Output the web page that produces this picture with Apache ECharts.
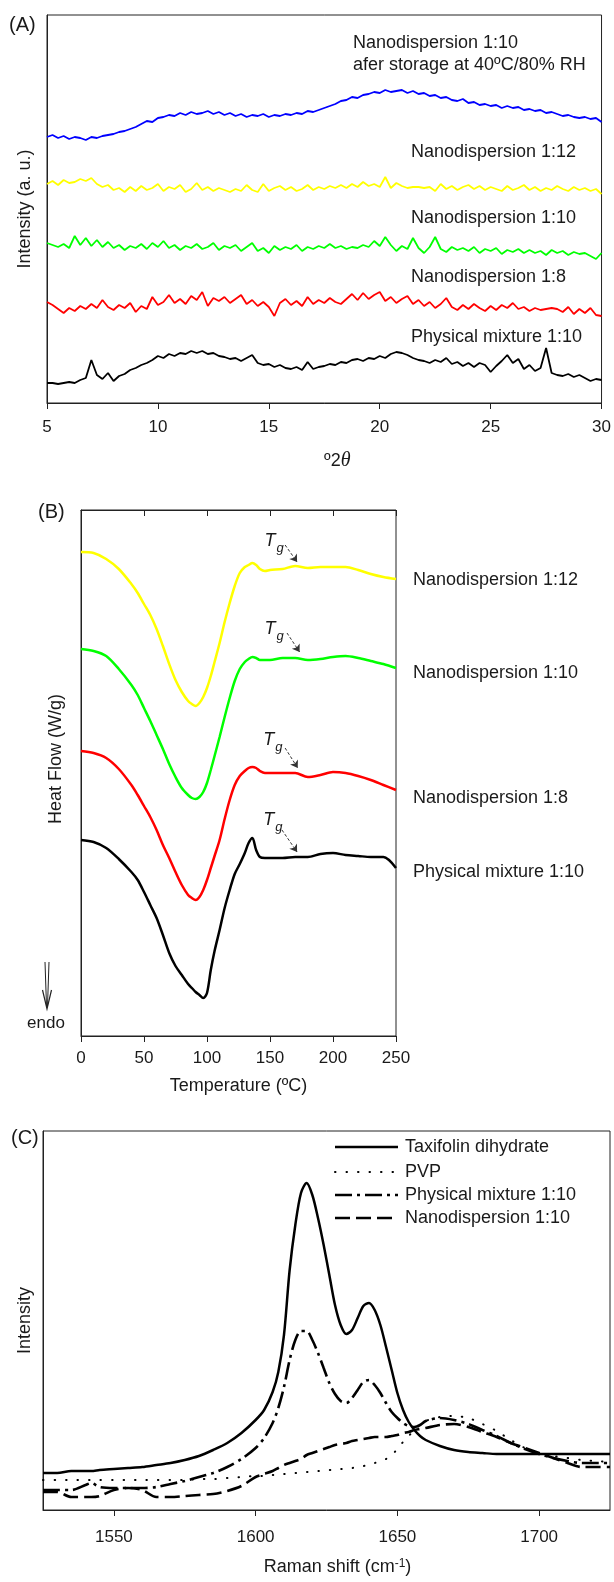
<!DOCTYPE html>
<html>
<head>
<meta charset="utf-8">
<title>XRD, DSC and Raman</title>
<script src="https://cdn.jsdelivr.net/npm/echarts@6/dist/echarts.min.js"></script>
<style>
  html, body { margin: 0; padding: 0; background: #fff; }
  #chart { width: 614px; height: 1582px; }
</style>
</head>
<body>
<div id="chart"></div>
<script>
// ---------- (A) XRD, 2theta from 5 to 30 in 0.25 steps, intensity a.u. ----------
const xrdStart = 5;
const xrdStep = 0.25;
const xrdStored = [
  266, 268, 265, 267, 264, 266, 265, 263, 266, 265,
  267, 268, 269, 271, 272, 274, 276, 279, 282, 281,
  285, 286, 288, 287, 290, 288, 291, 289, 290, 292,
  289, 291, 288, 290, 287, 289, 286, 288, 287, 289,
  286, 288, 287, 289, 288, 290, 289, 292, 291, 293,
  295, 297, 299, 302, 303, 306, 305, 308, 309, 311,
  310, 313, 311, 312, 313, 310, 312, 309, 310, 307,
  308, 305, 306, 303, 302, 304, 300, 301, 298, 299,
  297, 298, 295, 297, 295, 296, 293, 294, 292, 293,
  290, 291, 289, 287, 288, 286, 285, 286, 284, 285,
  281
];
const xrdNano12 = [
  219, 222, 218, 223, 220, 221, 224, 222, 225, 219,
  216, 218, 213, 215, 211, 216, 212, 217, 213, 215,
  219, 212, 216, 214, 218, 211, 214, 220, 213, 216,
  212, 215, 213, 211, 214, 212, 218, 213, 211, 219,
  212, 215, 217, 213, 216, 212, 214, 218, 213, 216,
  214, 217, 215, 218, 215, 219, 216, 221, 217, 219,
  216, 226, 215, 220, 217, 215, 216, 216, 215, 216,
  212, 219, 214, 217, 213, 216, 218, 214, 217, 213,
  216, 214, 212, 217, 213, 215, 218, 213, 216, 212,
  215, 213, 217, 214, 212, 216, 213, 215, 212, 214,
  209
];
const xrdNano10 = [
  160, 158, 156, 159, 155, 167, 158, 165, 157, 163,
  156, 161, 155, 158, 153, 157, 155, 159, 154, 160,
  156, 162, 155, 158, 153, 157, 155, 159, 154, 156,
  160, 153, 157, 155, 158, 152, 156, 160, 152, 155,
  150, 157, 153, 156, 154, 158, 152, 156, 154, 157,
  155, 159, 155, 157, 154, 156, 155, 158, 156, 162,
  157, 166, 158, 152, 157, 154, 165, 155, 150, 156,
  166, 154, 151, 156, 153, 155, 152, 156, 150, 154,
  152, 155, 149, 153, 151, 154, 150, 153, 150, 152,
  148, 153, 150, 152, 148, 151, 149, 150, 147, 144,
  150
];
const xrdNano8 = [
  101, 98, 94, 90, 95, 92, 97, 94, 99, 95,
  103, 96, 93, 98, 95, 100, 91, 97, 94, 106,
  98, 101, 108, 100, 104, 99, 107, 103, 111, 97,
  105, 102, 106, 100, 104, 108, 99, 103, 97, 101,
  96, 87, 100, 104, 98, 102, 97, 106, 99, 103,
  100, 105, 101, 99, 104, 109, 103, 110, 104, 108,
  111, 102, 106, 100, 104, 107, 99, 103, 97, 101,
  95, 99, 105, 96, 93, 98, 94, 99, 95, 92,
  97, 93, 98, 95, 100, 94, 96, 92, 95, 93,
  94, 95, 94, 91, 96, 89, 94, 90, 95, 88,
  87
];
const xrdPhysMix = [
  20, 20, 19, 20, 21, 20, 23, 25, 43, 28,
  24, 30, 22, 27, 29, 33, 35, 38, 40, 43,
  47, 45, 49, 47, 50, 49, 52, 50, 52, 49,
  50, 47, 46, 44, 45, 42, 45, 48, 40, 38,
  39, 36, 38, 35, 34, 36, 33, 41, 34, 36,
  37, 39, 38, 41, 40, 43, 44, 42, 45, 44,
  47, 45, 49, 51, 50, 48, 45, 43, 42, 40,
  43, 41, 45, 39, 41, 37, 40, 36, 40, 38,
  31, 37, 42, 48, 40, 44, 34, 38, 32, 35,
  55, 30, 28, 27, 29, 26, 28, 25, 22, 24,
  23
];
const xrdTicks = [5, 10, 15, 20, 25, 30];

// ---------- (B) DSC, heat flow W/g (curves offset) ----------
const temperature = [0, 10, 20, 30, 40, 45, 50, 55, 60, 65, 70, 75, 80, 85, 88, 91, 94, 97, 100, 103, 106,
  110, 114, 118, 122, 126, 130, 133, 136, 139, 142, 146, 150, 160, 170, 180, 190, 200, 210, 220, 230, 240, 250];
const dscNano12 = [4.84, 4.83, 4.77, 4.67, 4.52, 4.43, 4.32, 4.21, 4.07, 3.90, 3.72, 3.56, 3.44, 3.35, 3.32, 3.30,
  3.33, 3.39, 3.48, 3.60, 3.74, 3.93, 4.14, 4.33, 4.50, 4.63, 4.69, 4.71, 4.73, 4.71, 4.67, 4.65, 4.66, 4.67,
  4.70, 4.68, 4.69, 4.69, 4.69, 4.66, 4.62, 4.59, 4.57];
const dscNano10 = [3.87, 3.85, 3.80, 3.67, 3.51, 3.41, 3.28, 3.15, 3.01, 2.87, 2.72, 2.59, 2.48, 2.41, 2.38, 2.37,
  2.39, 2.44, 2.53, 2.66, 2.80, 2.99, 3.19, 3.38, 3.55, 3.67, 3.74, 3.77, 3.79, 3.78, 3.76, 3.76, 3.76, 3.78,
  3.78, 3.76, 3.77, 3.79, 3.80, 3.78, 3.75, 3.72, 3.68];
const dscNano8 = [2.85, 2.83, 2.78, 2.67, 2.51, 2.41, 2.30, 2.19, 2.06, 1.91, 1.78, 1.64, 1.51, 1.41, 1.38, 1.36,
  1.39, 1.46, 1.56, 1.68, 1.80, 1.96, 2.17, 2.36, 2.51, 2.60, 2.65, 2.68, 2.69, 2.68, 2.65, 2.63, 2.63, 2.63,
  2.63, 2.59, 2.61, 2.64, 2.63, 2.60, 2.56, 2.51, 2.46];
const dscPhysMix = [1.96, 1.94, 1.88, 1.77, 1.64, 1.56, 1.44, 1.31, 1.18, 1.01, 0.83, 0.70, 0.61, 0.52, 0.48, 0.44,
  0.41, 0.38, 0.43, 0.66, 0.85, 1.06, 1.28, 1.46, 1.62, 1.72, 1.83, 1.93, 1.98, 1.86, 1.79, 1.78, 1.78, 1.78,
  1.79, 1.79, 1.82, 1.83, 1.81, 1.80, 1.79, 1.79, 1.68];
const dscTicks = [0, 50, 100, 150, 200, 250];
// Tg arrows and labels, in (temperature, heat flow)
const tgArrowFrom = [[162, 4.91], [163.5, 4.03], [162, 2.88], [159.5, 2.06]];
const tgArrowTo = [[171.5, 4.74], [173.5, 3.84], [172, 2.68], [171.5, 1.84]];
const tgLabelAt = [[150, 4.95], [150, 4.07], [149, 2.96], [149, 2.16]];

// ---------- (C) Raman ----------
const ramanShift = [1525, 1530, 1535, 1540, 1542, 1545,
  1550, 1555, 1560, 1565, 1570, 1575, 1580, 1585, 1590, 1595, 1600,
  1603, 1606,
  1608, 1610, 1612, 1614, 1616, 1618, 1620, 1622, 1624, 1626, 1628, 1630, 1632, 1634, 1636, 1638, 1640,
  1642, 1644, 1646, 1648, 1650, 1652, 1654, 1656, 1658, 1660,
  1665, 1670, 1675, 1680, 1685, 1690, 1695, 1700, 1705, 1710, 1715, 1720, 1725];
const ramanTaxifolin = [37, 37, 39, 39, 39, 40,
  41, 42, 43, 45, 47, 50, 54, 60, 67, 77, 90,
  100, 118,
  138, 175, 240, 285, 317, 327, 315, 292, 265, 235, 205, 185, 176, 180, 192, 204, 207,
  200, 185, 163, 140, 117, 100, 88, 80, 74, 70,
  64, 60, 58, 57, 56, 56, 56, 56, 56, 56, 56, 56, 56];
const ramanPVP = [30, 30, 30, 30, 30, 30,
  30, 30, 30, 30, 30, 30, 31, 31, 32, 33, 34,
  34, 35,
  35, 36, 36, 37, 37, 38, 38, 39, 39, 40, 40, 41, 41, 42, 43, 44, 45,
  47, 49, 51, 55, 61, 68, 74, 80, 85, 89,
  93, 94, 92, 86, 79, 70, 62, 57, 54, 52, 50, 49, 48];
const ramanPhysMix = [20, 20, 20, 25, 27, 23,
  22, 22, 22, 23, 26, 29, 33, 37, 43, 51, 62,
  72, 87,
  102, 123, 150, 170, 179, 179, 170, 157, 142, 127, 116, 109, 107, 112, 120, 128, 130,
  125, 117, 107, 98, 92, 87, 84, 83, 85, 89,
  92, 90, 86, 80, 74, 67, 61, 56, 52, 49, 47, 47, 47];
const ramanNano10 = [18, 18, 13, 13, 13, 14,
  20, 22, 20, 13, 13, 14, 15, 16, 19, 24, 33,
  36, 39,
  42, 45, 47, 49, 51, 55, 57, 59, 61, 63, 65, 66, 67, 69, 70, 71, 72,
  73, 73, 73, 74, 75, 77, 78, 80, 81, 82,
  85, 86, 83, 78, 73, 67, 62, 57, 52, 47, 43, 43, 43];
const ramanTicks = [1550, 1600, 1650, 1700];

// ---------- styling ----------
const FONT = '"Liberation Sans", Arial, Helvetica, sans-serif';
const INK = '#1a1a1a';

const xrdSeries = [
  {name: 'Nanodispersion 1:10 after storage', color: '#0000ff', values: xrdStored},
  {name: 'Nanodispersion 1:12', color: '#ffff00', values: xrdNano12},
  {name: 'Nanodispersion 1:10', color: '#00ff00', values: xrdNano10},
  {name: 'Nanodispersion 1:8', color: '#ff0000', values: xrdNano8},
  {name: 'Physical mixture 1:10', color: '#000000', values: xrdPhysMix},
];
const dscSeries = [
  {name: 'Nanodispersion 1:12', color: '#ffff00', values: dscNano12},
  {name: 'Nanodispersion 1:10', color: '#00ff00', values: dscNano10},
  {name: 'Nanodispersion 1:8', color: '#ff0000', values: dscNano8},
  {name: 'Physical mixture 1:10', color: '#000000', values: dscPhysMix},
];
const ramanSeries = [
  {name: 'Taxifolin dihydrate', values: ramanTaxifolin, dash: 'solid', width: 2.5, cap: 'butt'},
  {name: 'PVP', values: ramanPVP, dash: [0.5, 11], width: 2, cap: 'round'},
  {name: 'Physical mixture 1:10', values: ramanPhysMix, dash: [17, 5, 3, 5], width: 2.6, cap: 'butt'},
  {name: 'Nanodispersion 1:10', values: ramanNano10, dash: [15, 6], width: 2.6, cap: 'butt'},
];

const gridBox = {show: true, borderColor: '#222', borderWidth: 1, backgroundColor: 'transparent', containLabel: false};

function xAxisBase(gridIndex, min, max, ticks, margin) {
  return {
    gridIndex, type: 'value', min, max,
    axisLine: {show: true, lineStyle: {color: '#222', width: 1}},
    axisTick: {show: true, inside: false, length: 6, lineStyle: {color: '#222'}, customValues: ticks},
    axisLabel: {fontSize: 17, color: INK, fontFamily: FONT, margin, customValues: ticks,
      formatter: (v) => String(v)},
    splitLine: {show: false},
    nameLocation: 'middle',
  };
}

function yAxisBase(gridIndex, min, max, name, gap, padding) {
  return {
    gridIndex, type: 'value', min, max,
    axisLine: {show: true, lineStyle: {color: '#222', width: 1}},
    axisTick: {show: false}, axisLabel: {show: false}, splitLine: {show: false},
    name, nameLocation: 'middle', nameGap: gap,
    nameTextStyle: {fontSize: 18, color: INK, fontFamily: FONT, padding: padding || 0},
  };
}

const series = [];
xrdSeries.forEach((s) => {
  series.push({
    name: s.name, type: 'line', xAxisIndex: 0, yAxisIndex: 0,
    symbol: 'none', silent: true,
    lineStyle: {color: s.color, width: 1.8},
    data: s.values.map((v, i) => [xrdStart + i * xrdStep, v]),
  });
});
dscSeries.forEach((s, k) => {
  series.push({
    name: s.name, type: 'line', xAxisIndex: 1, yAxisIndex: 1,
    symbol: 'none', silent: true, smooth: 0.3,
    lineStyle: {color: s.color, width: 2.5},
    data: temperature.map((t, i) => [t, s.values[i]]),
    markLine: {
      silent: true, animation: false,
      symbol: ['none', 'arrow'], symbolSize: 7,
      lineStyle: {color: '#333', width: 1, type: [3, 2]},
      label: {show: false},
      data: [[{coord: tgArrowFrom[k]}, {coord: tgArrowTo[k]}]],
    },
  });
});
ramanSeries.forEach((s, k) => {
  series.push({
    name: s.name, type: 'line', xAxisIndex: 3, yAxisIndex: 2,
    symbol: 'none', silent: true, smooth: 0.3, z: 10 - k,
    lineStyle: {color: '#000', width: s.width, type: s.dash, cap: s.cap},
    data: ramanShift.map((x, i) => [x, s.values[i]]),
  });
});

const chart = echarts.init(document.getElementById('chart'), null, {renderer: 'canvas'});

chart.setOption({
  animation: false,
  backgroundColor: '#fff',
  grid: [
    Object.assign({left: 47, top: 15, width: 557, height: 388}, gridBox),
    Object.assign({left: 81, top: 510, width: 315, height: 526}, gridBox),
    Object.assign({left: 43, top: 1131, width: 567, height: 379}, gridBox),
  ],
  xAxis: [
    Object.assign(xAxisBase(0, 5, 30, xrdTicks, 16), {
      interval: 5,
      name: '{a|º2}{b|θ}', nameGap: 48,
      nameTextStyle: {
        padding: [0, 0, 0, 26],
        rich: {
          a: {fontSize: 18, color: INK, fontFamily: FONT},
          b: {fontSize: 20, color: INK, fontStyle: 'italic', fontFamily: '"Liberation Serif", "DejaVu Serif", serif'},
        },
      },
    }),
    Object.assign(xAxisBase(1, 0, 250, dscTicks, 14), {
      interval: 50,
      name: 'Temperature (ºC)', nameGap: 41,
      nameTextStyle: {fontSize: 18, color: INK, fontFamily: FONT},
    }),
    {
      gridIndex: 1, type: 'value', position: 'top', min: 0, max: 250, interval: 50,
      axisLine: {show: true, lineStyle: {color: '#222'}},
      axisTick: {show: true, inside: true, length: 6, lineStyle: {color: '#222'}},
      axisLabel: {show: false}, splitLine: {show: false},
    },
    Object.assign(xAxisBase(2, 1525, 1725, ramanTicks, 19), {
      splitNumber: 4,
      name: '{n|Raman shift (cm}{s|-1}{n|)}', nameGap: 48,
      nameTextStyle: {
        padding: [0, 0, 0, 22],
        rich: {
          n: {fontSize: 18, color: INK, fontFamily: FONT},
          s: {fontSize: 12, color: INK, fontFamily: FONT, verticalAlign: 'top'},
        },
      },
    }),
  ],
  yAxis: [
    yAxisBase(0, 0, 388, 'Intensity (a. u.)', 13),
    yAxisBase(1, 0, 5.26, 'Heat Flow (W/g)', 16, [0, 0, 0, 28]),
    yAxisBase(2, 0, 379, 'Intensity', 9),
  ],
  series,
});

// ---------- text annotations ----------
function text(x, y, str, size, extra) {
  return {
    type: 'text', x, y, silent: true, z: 100,
    style: Object.assign({
      text: str, fill: INK, fontSize: size, fontFamily: FONT,
      align: 'left', verticalAlign: 'middle',
    }, extra || {}),
  };
}

const graphics = [
  text(9, 25, '(A)', 20),
  text(38, 512, '(B)', 20),
  text(11, 1138, '(C)', 20),
  // panel A trace labels
  text(353, 43, 'Nanodispersion 1:10', 18),
  text(353, 65, 'afer storage at 40ºC/80% RH', 18),
  text(411, 152, 'Nanodispersion 1:12', 18),
  text(411, 218, 'Nanodispersion 1:10', 18),
  text(411, 277, 'Nanodispersion 1:8', 18),
  text(411, 337, 'Physical mixture 1:10', 18),
  // panel B trace labels
  text(413, 580, 'Nanodispersion 1:12', 18),
  text(413, 673, 'Nanodispersion 1:10', 18),
  text(413, 798, 'Nanodispersion 1:8', 18),
  text(413, 872, 'Physical mixture 1:10', 18),
  // endo arrow
  {type: 'polyline', silent: true, shape: {points: [[45, 962], [46.5, 1006]]}, style: {stroke: '#222', lineWidth: 1}},
  {type: 'polyline', silent: true, shape: {points: [[49, 962], [47.5, 1006]]}, style: {stroke: '#222', lineWidth: 1}},
  {type: 'polyline', silent: true, shape: {points: [[42.5, 990], [47, 1009], [51.5, 990]]}, style: {stroke: '#222', lineWidth: 1.2, fill: null}},
  text(46, 1023, 'endo', 17, {align: 'center'}),
];

// Tg labels placed through the DSC axes
const dscFirstSeries = xrdSeries.length;
tgLabelAt.forEach((p) => {
  const [px, py] = chart.convertToPixel({seriesIndex: dscFirstSeries}, p);
  graphics.push(text(px, py, 'T', 18, {align: 'center', fontStyle: 'italic'}));
  graphics.push(text(px + 10, py + 7, 'g', 13, {align: 'center', fontStyle: 'italic'}));
});

// panel C legend
const legendRows = [1147, 1172, 1195, 1218];
ramanSeries.forEach((s, k) => {
  const y = legendRows[k];
  graphics.push({
    type: 'line', silent: true, z: 100,
    shape: {x1: 335, y1: y, x2: 398, y2: y},
    style: {stroke: '#000', lineWidth: s.width, lineDash: s.dash === 'solid' ? null : s.dash, lineCap: s.cap},
  });
  graphics.push(text(405, y, s.name, 18));
});

chart.setOption({graphic: graphics});
</script>
</body>
</html>
